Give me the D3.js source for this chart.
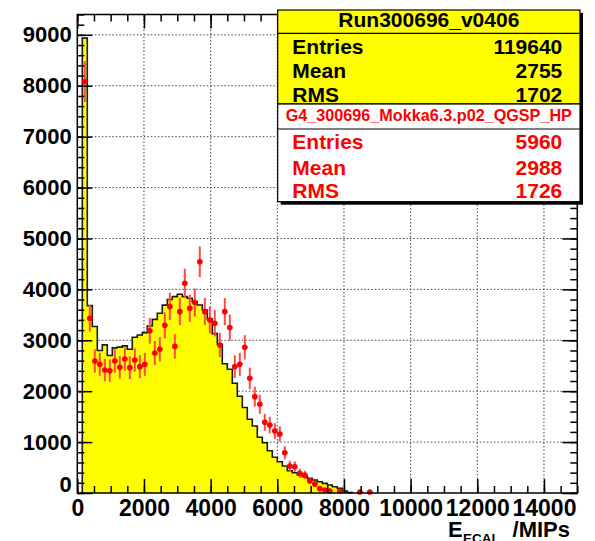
<!DOCTYPE html>
<html>
<head>
<meta charset="utf-8">
<script src="https://cdn.jsdelivr.net/npm/d3@7"></script>
<style>
body { margin: 0; background: #fff; }
svg { display: block; font-family: "Liberation Sans", Arial, sans-serif; font-weight: bold; }
</style>
</head>
<body>
<svg id="chart" width="595" height="541"></svg>
<script>
// both histograms use the same binning, starting at 0
var binWidth = 150;

// Run300696_v0406 (yellow histogram), entries per bin
var dataCounts = [0, 8935, 3680, 3270, 2800, 2910, 2700, 2850, 2865, 2890,
    2825, 3060, 3105, 3150, 3280, 3410, 3530, 3690, 3800, 3858,
    3904, 3858, 3825, 3760, 3694, 3596, 3420, 3130, 2920, 2540,
    2430, 2155, 1900, 1680, 1448, 1316, 1094, 988, 831, 701,
    615, 530, 438, 399, 354, 321, 288, 255, 222, 190,
    157, 124, 92, 39, 10];

// G4_300696_Mokka6.3.p02_QGSP_HP (red points), scaled entries per bin and their errors
var simCounts = [null, 8082, 3432, 2594, 2528, 2416, 2403, 2594, 2470, 2633,
    2462, 2613, 2482, 2528, 3185, 2750, 2823, 3295, 3665, 2880,
    3563, 4120, 3628, 3743, 4544, 3563, 3400, 3335, 2908, 3563,
    3249, 2482, 2528, 2862, 2253, 1893, 1743, 1389, 1336, 1218,
    1159, 792, 530, 517, 387, 354, 242, 177, 85, 59,
    39, null, 40, null, null, null, 20, null, 20];
var simErrors = [null, 402, 262, 228, 225, 220, 219, 228, 222, 229,
    222, 229, 223, 225, 252, 235, 238, 257, 271, 240,
    267, 287, 269, 274, 301, 267, 261, 258, 241, 267,
    255, 223, 225, 239, 212, 195, 187, 167, 163, 156,
    152, 126, 103, 102, 88, 84, 70, 60, 41, 34,
    28, null, 28, null, null, null, 20, null, 20];

var xTicks = [0, 2000, 4000, 6000, 8000, 10000, 12000, 14000];
var xMinor = d3.range(0, 15001, 500);
var yTicks = [0, 1000, 2000, 3000, 4000, 5000, 6000, 7000, 8000, 9000];
var yMinor = d3.range(0, 9401, 200);

var statsTitle1 = "Run300696_v0406";
var statsRows1 = [["Entries", "119640"], ["Mean", "2755"], ["RMS", "1702"]];
var statsTitle2 = "G4_300696_Mokka6.3.p02_QGSP_HP";
var statsRows2 = [["Entries", "5960"], ["Mean", "2988"], ["RMS", "1726"]];

// frame edges (window.top is reserved, so not called top)
var fLeft = 77.3, fRight = 577.3, fTop = 14.5, fBottom = 493;

var svg = d3.select("#chart");

var x = d3.scaleLinear().domain([0, 15000]).range([fLeft, fRight]);
var y = d3.scaleLinear().domain([0, 9400]).range([fBottom, fTop]);

// grid
var grid = svg.append("g")
    .attr("stroke", "#444")
    .attr("stroke-width", 1)
    .attr("stroke-dasharray", "1.5,2");
grid.selectAll(".gx").data(xTicks.slice(1)).enter().append("line")
    .attr("x1", d => x(d)).attr("x2", d => x(d))
    .attr("y1", fBottom).attr("y2", fTop);
grid.selectAll(".gy").data(yTicks.slice(1)).enter().append("line")
    .attr("x1", fLeft).attr("x2", fRight)
    .attr("y1", d => y(d)).attr("y2", d => y(d));

// yellow histogram
var histPts = dataCounts.map(function(c, i) { return [i * binWidth, c]; });
histPts.push([dataCounts.length * binWidth, 0]);

var area = d3.area()
    .curve(d3.curveStepAfter)
    .x(d => x(d[0]))
    .y0(y(0))
    .y1(d => y(d[1]));
var line = d3.line()
    .curve(d3.curveStepAfter)
    .x(d => x(d[0]))
    .y(d => y(d[1]));

svg.append("path").datum(histPts)
    .attr("d", area)
    .attr("fill", "#ffff00");
svg.append("path").datum(histPts)
    .attr("d", line)
    .attr("fill", "none")
    .attr("stroke", "#1a1a1a")
    .attr("stroke-width", 1.6);

// red points with errors
var simPts = [];
simCounts.forEach(function(v, i) {
    if (v !== null) simPts.push({ lo: i * binWidth, hi: (i + 1) * binWidth, v: v, e: simErrors[i] });
});
var pts = svg.append("g");
pts.selectAll(".ey").data(simPts).enter().append("line")
    .attr("x1", d => x((d.lo + d.hi) / 2)).attr("x2", d => x((d.lo + d.hi) / 2))
    .attr("y1", d => y(Math.max(0, d.v - d.e))).attr("y2", d => y(d.v + d.e))
    .attr("stroke", "#ff4a4a").attr("stroke-width", 2);
pts.selectAll(".ex").data(simPts).enter().append("line")
    .attr("x1", d => x(d.lo)).attr("x2", d => x(d.hi))
    .attr("y1", d => y(d.v)).attr("y2", d => y(d.v))
    .attr("stroke", "#ff0000").attr("stroke-width", 2);
pts.selectAll("circle").data(simPts).enter().append("circle")
    .attr("cx", d => x((d.lo + d.hi) / 2))
    .attr("cy", d => y(d.v))
    .attr("r", 2.8)
    .attr("fill", "#ff0000");

// axes (ticks point inside the frame)
function styleAxis(g) {
    g.select(".domain").remove();
    g.selectAll(".tick line").attr("stroke", "#000").attr("stroke-width", 1.5);
}
svg.append("g").attr("transform", "translate(0," + fBottom + ")")
    .call(d3.axisBottom(x).tickValues(xMinor).tickSize(-7).tickFormat(""))
    .call(styleAxis);
var xAxis = svg.append("g").attr("transform", "translate(0," + fBottom + ")")
    .call(d3.axisBottom(x).tickValues(xTicks).tickSize(-14).tickPadding(7).tickFormat(d3.format("d")))
    .call(styleAxis);
xAxis.selectAll("text")
    .attr("fill", "#000")
    .style("font-size", "23px")
    .style("font-family", "'Liberation Sans', Arial, sans-serif")
    .style("font-weight", "bold");

svg.append("g").attr("transform", "translate(0," + fTop + ")")
    .call(d3.axisTop(x).tickValues(xMinor).tickSize(-7).tickFormat(""))
    .call(styleAxis);
svg.append("g").attr("transform", "translate(0," + fTop + ")")
    .call(d3.axisTop(x).tickValues(xTicks).tickSize(-14).tickFormat(""))
    .call(styleAxis);

svg.append("g").attr("transform", "translate(" + fLeft + ",0)")
    .call(d3.axisLeft(y).tickValues(yMinor).tickSize(-7).tickFormat(""))
    .call(styleAxis);
var yAxis = svg.append("g").attr("transform", "translate(" + fLeft + ",0)")
    .call(d3.axisLeft(y).tickValues(yTicks).tickSize(-15).tickPadding(5.5).tickFormat(d3.format("d")))
    .call(styleAxis);
yAxis.selectAll("text")
    .attr("fill", "#000")
    .style("font-size", "22px")
    .style("font-family", "'Liberation Sans', Arial, sans-serif")
    .style("font-weight", "bold");
yAxis.selectAll(".tick").filter(d => d === 0).select("text").attr("dy", "-0.05em");

svg.append("g").attr("transform", "translate(" + fRight + ",0)")
    .call(d3.axisRight(y).tickValues(yMinor).tickSize(-7).tickFormat(""))
    .call(styleAxis);
svg.append("g").attr("transform", "translate(" + fRight + ",0)")
    .call(d3.axisRight(y).tickValues(yTicks).tickSize(-15).tickFormat(""))
    .call(styleAxis);

// frame
svg.append("rect")
    .attr("x", fLeft).attr("y", fTop)
    .attr("width", fRight - fLeft).attr("height", fBottom - fTop)
    .attr("fill", "none").attr("stroke", "#000").attr("stroke-width", 1.5);

// x axis title
svg.append("text").attr("x", 448).attr("y", 537)
    .style("font-size", "22px").text("E");
svg.append("text").attr("x", 463).attr("y", 543)
    .style("font-size", "13.5px").text("ECAL");
svg.append("text").attr("x", 570).attr("y", 537).attr("text-anchor", "end")
    .style("font-size", "22px").text("/MIPs");

// stats boxes
var bx = 277.7, bw = 302.3;
var b1y = 10, b1h = 94, b2y = 104, b2h = 97.7;

svg.append("rect").attr("x", bx + 3).attr("y", b1y + 3).attr("width", bw).attr("height", b1h + b2h)
    .attr("fill", "#000");
svg.append("rect").attr("x", bx).attr("y", b1y).attr("width", bw).attr("height", b1h)
    .attr("fill", "#ffff00").attr("stroke", "#000").attr("stroke-width", 1.2);
svg.append("line").attr("x1", bx).attr("x2", bx + bw).attr("y1", 33.3).attr("y2", 33.3)
    .attr("stroke", "#000").attr("stroke-width", 1.2);
svg.append("rect").attr("x", bx).attr("y", b2y).attr("width", bw).attr("height", b2h)
    .attr("fill", "#fff").attr("stroke", "#000").attr("stroke-width", 1.2);
svg.append("line").attr("x1", bx).attr("x2", bx + bw).attr("y1", 129).attr("y2", 129)
    .attr("stroke", "#000").attr("stroke-width", 1.2);

svg.append("text").attr("x", bx + bw / 2).attr("y", 27).attr("text-anchor", "middle")
    .style("font-size", "21px").attr("fill", "#000").text(statsTitle1);
var rows1y = [54, 77.7, 101.5];
statsRows1.forEach(function(r, i) {
    svg.append("text").attr("x", 292.3).attr("y", rows1y[i])
        .style("font-size", "21px").attr("fill", "#000").text(r[0]);
    svg.append("text").attr("x", 562.3).attr("y", rows1y[i]).attr("text-anchor", "end")
        .style("font-size", "21px").attr("fill", "#000").text(r[1]);
});

svg.append("text").attr("x", bx + bw / 2).attr("y", 120.5).attr("text-anchor", "middle")
    .style("font-size", "16.2px").attr("fill", "#ff0000").text(statsTitle2);
var rows2y = [149, 175, 198.3];
statsRows2.forEach(function(r, i) {
    svg.append("text").attr("x", 292.3).attr("y", rows2y[i])
        .style("font-size", "21px").attr("fill", "#ff0000").text(r[0]);
    svg.append("text").attr("x", 562.3).attr("y", rows2y[i]).attr("text-anchor", "end")
        .style("font-size", "21px").attr("fill", "#ff0000").text(r[1]);
});
</script>
</body>
</html>
